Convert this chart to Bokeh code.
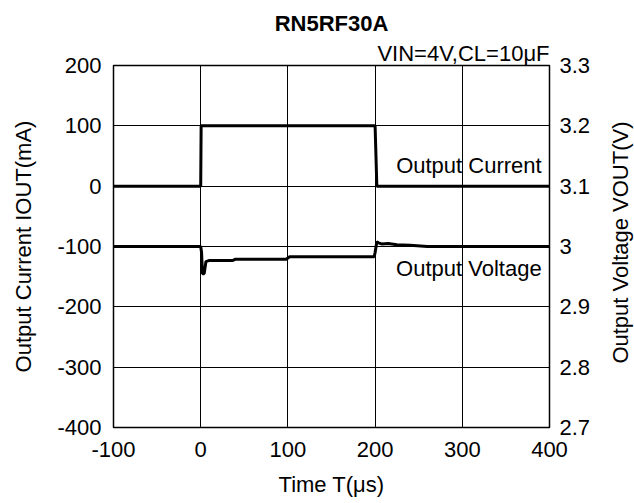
import math
from bokeh.plotting import figure
from bokeh.layouts import row
from bokeh.models import Range1d, LinearAxis, FixedTicker, Title, Label
from bokeh.embed import file_html
from bokeh.resources import INLINE

# current trace (mA)
t_current = [-100, 0, 0.5, 200, 202, 400]
i_current = [0, 0, 100, 100, 0, 0]

# voltage trace (V)
t_voltage = [-100, 0, 1, 2, 4, 6, 10, 37, 40, 98, 102, 199, 200, 202, 204, 208, 215, 225, 240, 260, 300, 400]
v_voltage = [3.0, 3.0, 2.99, 2.955, 2.955, 2.975, 2.977, 2.977, 2.979, 2.979, 2.983, 2.983, 2.99, 3.008, 3.006, 3.004, 3.005, 3.003, 3.002, 3.0, 3.0, 3.0]

x_ticks = [-100, 0, 100, 200, 300, 400]
y_ticks = [-400, -300, -200, -100, 0, 100, 200]
v_ticks = [2.7, 2.8, 2.9, 3.0, 3.1, 3.2, 3.3]

FONT = "Liberation Sans"
FS = "22px"

p = figure(width=605, height=503, output_backend="svg", toolbar_location=None,
           x_range=Range1d(-100, 400), y_range=Range1d(-400, 200),
           min_border_left=113, min_border_right=56, min_border_top=65, min_border_bottom=76)
p.extra_y_ranges = {"v": Range1d(2.7, 3.3)}

p.outline_line_color = "black"
p.outline_line_width = 1.5
p.background_fill_color = "white"
p.border_fill_color = "white"

for g in (p.xgrid, p.ygrid):
    g.grid_line_color = "black"
    g.grid_line_width = 1
p.xgrid.ticker = FixedTicker(ticks=x_ticks)
p.ygrid.ticker = FixedTicker(ticks=y_ticks)

def style_axis(ax, standoff):
    ax.axis_line_color = None
    ax.major_tick_in = 0
    ax.major_tick_out = 0
    ax.minor_tick_in = 0
    ax.minor_tick_out = 0
    ax.major_label_text_font = FONT
    ax.major_label_text_font_size = FS
    ax.major_label_text_color = "black"
    ax.major_label_standoff = standoff
    ax.axis_label_text_font = FONT
    ax.axis_label_text_font_size = FS
    ax.axis_label_text_font_style = "normal"
    ax.axis_label_text_color = "black"

xa = p.xaxis[0]
xa.ticker = FixedTicker(ticks=x_ticks)
xa.major_label_overrides = {t: str(t) for t in x_ticks}
xa.axis_label = "Time T(μs)"
style_axis(xa, 14)
xa.axis_label_standoff = 12

ya = p.yaxis[0]
ya.ticker = FixedTicker(ticks=y_ticks)
ya.major_label_overrides = {t: str(t) for t in y_ticks}
ya.axis_label = "Output Current IOUT(mA)"
style_axis(ya, 12)
ya.axis_label_standoff = 18

ra = LinearAxis(y_range_name="v", ticker=FixedTicker(ticks=v_ticks))
style_axis(ra, 10)
p.add_layout(ra, "right")

p.line(t_current, i_current, line_color="black", line_width=3)
p.line(t_voltage, v_voltage, line_color="black", line_width=3, y_range_name="v")

p.add_layout(Label(x=391, y=34, text="Output Current", text_color="black",
                   text_font=FONT, text_font_size=FS, text_align="right", text_baseline="middle"))
p.add_layout(Label(x=391, y=-136, text="Output Voltage", text_color="black",
                   text_font=FONT, text_font_size=FS, text_align="right", text_baseline="middle"))

sub = Title(text="VIN=4V,CL=10μF", align="right", text_font=FONT, text_font_size=FS,
            text_font_style="normal", text_color="black", standoff=0, offset=0)
p.add_layout(sub, "above")
main = Title(text="RN5RF30A", align="center", text_font=FONT, text_font_size=FS,
             text_font_style="bold", text_color="black", standoff=6)
p.add_layout(main, "above")
p.title.visible = False

# narrow strip on the right that carries the right axis title, reading bottom-to-top
q = figure(width=29, height=503, output_backend="svg", toolbar_location=None,
           x_range=Range1d(0, 1), y_range=Range1d(0, 503),
           min_border_left=0, min_border_right=0, min_border_top=0, min_border_bottom=0)
q.axis.visible = False
q.grid.visible = False
q.outline_line_color = None
q.background_fill_color = "white"
q.border_fill_color = "white"
q.add_layout(Label(x=0.5, y=257, angle=math.pi / 2, text="Output Voltage VOUT(V)", text_color="black",
                   text_font=FONT, text_font_size=FS, text_align="center", text_baseline="middle"))

layout = row(p, q, spacing=0)
open("out.html", "w").write(file_html(layout, INLINE))
